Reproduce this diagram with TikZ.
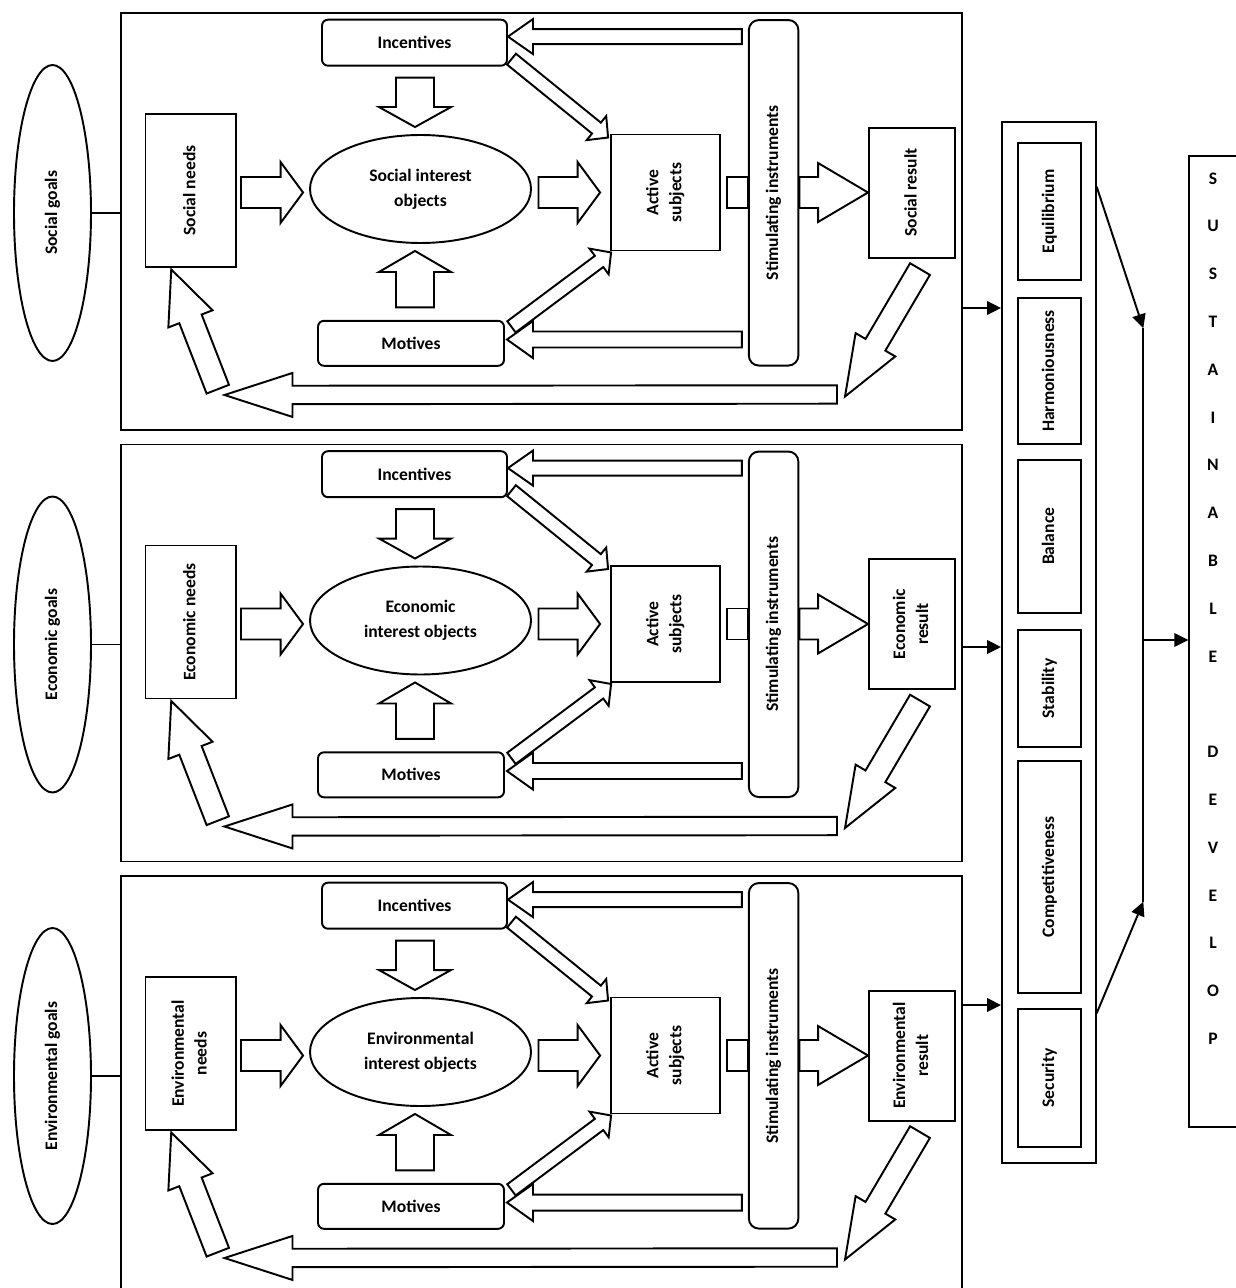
\documentclass[tikz,border=0pt]{standalone}
\usepackage{fontspec}
\setmainfont{Carlito}
\usepackage{graphicx}
\usetikzlibrary{calc,shapes.geometric,arrows.meta}

\newcommand{\vtext}[1]{\rotatebox{90}{\begin{tabular}{@{}c@{}}#1\end{tabular}}}

\newcommand{\fatarrow}[5]{%
\coordinate (fa-b) at ($(#2)!#5*0.2mm!(#1)$);
\draw[fat] ($(#1)!#3*0.2mm!90:(#2)$) -- ($(fa-b)!#3*0.2mm!90:(#2)$) -- ($(fa-b)!#4*0.2mm!90:(#2)$) -- (#2)
  -- ($(fa-b)!#4*0.2mm!-90:(#2)$) -- ($(fa-b)!#3*0.2mm!-90:(#2)$) -- ($(#1)!#3*0.2mm!-90:(#2)$) -- cycle;}

\newcommand{\sector}[6]{%
\node[frame] (#1-frame) at (541.7,#2+208.5) {};
\node[oval, minimum width=15.4mm, minimum height=59.2mm] (#1-goal) at (52.5,#2+200) {\vtext{#3}};
\draw[link] (#1-goal.east) -- (#1-goal.east -| #1-frame.west);
\node[plain, minimum width=18.1mm, minimum height=30.6mm] (#1-needs) at (190.75,#2+177.5) {\vtext{#4}};
\node[soft, minimum width=37mm, minimum height=9.2mm] (#1-inc) at (414.5,#2+29.7) {Incentives};
\node[soft, minimum width=37.2mm, minimum height=9mm] (#1-mot) at (411,#2+330.3) {Motives};
\node[oval, minimum width=44.2mm, minimum height=21.6mm, align=center,
  font=\bfseries\fontsize{10}{14.2}\selectfont] (#1-int) at (420.5,#2+176) {#5};
\node[plain, minimum width=21.7mm, minimum height=23.2mm] (#1-act) at (665.3,#2+179.5) {\vtext{Active\\subjects}};
\node[plain, rounded corners=2mm, minimum width=9.9mm, minimum height=69.1mm] (#1-stim) at (773.6,#2+179.8) {\vtext{Stimulating instruments}};
\node[plain, minimum width=17.2mm, minimum height=26mm] (#1-res) at (912,#2+179.6) {\vtext{#6}};
\coordinate (#1-a1) at ($(#1-needs.east |- #1-act.center)+(4,0)$);
\coordinate (#1-a2) at ($(#1-int.west |- #1-act.center)+(-6,0)$);
\fatarrow{#1-a1}{#1-a2}{15.5}{30.5}{22.5}
\coordinate (#1-b1) at ($(#1-int.east |- #1-act.center)+(6.5,0)$);
\coordinate (#1-b2) at ($(#1-act.west)+(-10,0)$);
\fatarrow{#1-b1}{#1-b2}{15.5}{30.5}{22.5}
\coordinate (#1-c1) at ($(#1-inc.south)+(0.5,11)$);
\coordinate (#1-c2) at ($(#1-inc.south |- #1-int.north)+(0.5,-7)$);
\fatarrow{#1-c1}{#1-c2}{19}{36}{20}
\coordinate (#1-d1) at ($(#1-inc.south |- #1-mot.north)+(0.5,-12.5)$);
\coordinate (#1-d2) at ($(#1-inc.south |- #1-int.south)+(0.5,7)$);
\fatarrow{#1-d1}{#1-d2}{19}{36}{21}
\coordinate (#1-e1) at ($(#1-stim.north west)+(-6,17.5)$);
\coordinate (#1-e2) at (#1-inc.east |- #1-e1);
\fatarrow{#1-e1}{#1-e2}{7.5}{17.5}{25}
\coordinate (#1-f1) at ($(#1-stim.south west)+(-6,-27)$);
\coordinate (#1-f2) at ($(#1-mot.east |- #1-f1)+(2,0)$);
\fatarrow{#1-f1}{#1-f2}{8}{18.5}{26}
\coordinate (#1-g1) at ($(#1-inc.south east)+(3.5,-7.5)$);
\coordinate (#1-g2) at ($(#1-act.north west)+(-2,4)$);
\fatarrow{#1-g1}{#1-g2}{7}{15.5}{15}
\coordinate (#1-h1) at ($(#1-mot.north east)+(6.5,7)$);
\coordinate (#1-h2) at ($(#1-act.south west)+(1,1)$);
\fatarrow{#1-h1}{#1-h2}{7}{16}{15}
\draw[plain] ($(#1-stim.west |- #1-act.center)+(-21,-15.5)$) rectangle ($(#1-stim.west |- #1-act.center)+(0,15.5)$);
\coordinate (#1-i1) at (#1-stim.east |- #1-act.center);
\coordinate (#1-i2) at (#1-res.west |- #1-act.center);
\fatarrow{#1-i1}{#1-i2}{15.5}{29.5}{50}
\coordinate (#1-r1) at (837,#2+381.5);
\coordinate (#1-r2) at (224.5,#2+382);
\fatarrow{#1-r1}{#1-r2}{9.2}{22}{68}
\coordinate (#1-j1) at ($(#1-res.south)+(8,10.5)$);
\coordinate (#1-j2) at ($(#1-r1)+(8,2)$);
\fatarrow{#1-j1}{#1-j2}{11.5}{23}{60}
\coordinate (#1-k1) at ($(#1-r2)+(-6.7,-5.8)$);
\coordinate (#1-k2) at ($(#1-needs.south)+(-19.5,1.5)$);
\fatarrow{#1-k1}{#1-k2}{12}{23.7}{53}}

\begin{document}
\begin{tikzpicture}[x=0.2mm,y=-0.2mm,
  every node/.style={font=\bfseries\fontsize{10}{13}\selectfont, inner sep=0pt},
  plain/.style={draw, line width=1.1pt, rectangle},
  soft/.style={plain, rounded corners=1.2mm},
  oval/.style={draw, line width=1.1pt, ellipse},
  frame/.style={draw, line width=1.1pt, minimum width=168.26mm, minimum height=83.4mm},
  link/.style={line width=1.1pt},
  flow/.style={line width=1.1pt, -{Triangle[length=2.8mm,width=2.7mm]}},
  fat/.style={draw, line width=1.1pt, fill=white}]
\useasboundingbox (0,0) rectangle (1235,1288);

\sector{s}{13}{Social goals}{Social needs}{Social interest\\objects}{Social result}
\sector{e}{444.5}{Economic goals}{Economic needs}{Economic\\interest objects}{Economic\\result}
\sector{n}{876}{Environmental goals}{Environmental\\needs}{Environmental\\interest objects}{Environmental\\result}

\node[plain, minimum width=18.74mm, minimum height=208.26mm] (cont) at (1048.85,642.35) {};
\node[plain, minimum width=12.6mm, minimum height=27.46mm] (eq) at (1049.5,211.35) {\vtext{Equilibrium}};
\node[plain, minimum width=12.6mm, minimum height=29.2mm] (har) at (1049.5,371) {\vtext{Harmoniousness}};
\node[plain, minimum width=12.6mm, minimum height=30.54mm] (bal) at (1049.5,536.35) {\vtext{Balance}};
\node[plain, minimum width=12.6mm, minimum height=23.4mm] (sta) at (1049.5,688.5) {\vtext{Stability}};
\node[plain, minimum width=12.6mm, minimum height=46.46mm] (com) at (1049.5,876.85) {\vtext{Competitiveness}};
\node[plain, minimum width=12.6mm, minimum height=27.54mm] (sec) at (1049.5,1077.85) {\vtext{Security}};

\node[plain, minimum width=24mm, minimum height=194.2mm] (sust) at (1249.3,641.5) {};
\node[anchor=north, align=center, font=\bfseries\fontsize{10}{27.2}\selectfont] (word) at (1213,172.3)
  {S\\U\\S\\T\\A\\I\\N\\A\\B\\L\\E\\[27.2pt]D\\E\\V\\E\\L\\O\\P};

\draw[flow] (s-frame.east |- 0,308) -- (cont.west |- 0,308);
\draw[flow] (e-frame.east |- 0,647) -- (cont.west |- 0,647);
\draw[flow] (n-frame.east |- 0,1005) -- (cont.west |- 0,1005);

\coordinate (bus-t) at (1143.3,328.3);
\coordinate (bus-b) at (1143.3,901.7);
\draw[flow] (cont.east |- 0,186.7) -- (bus-t);
\draw[link] (bus-t) -- (bus-b);
\draw[flow] (cont.east |- 0,1013.3) -- (bus-b);
\draw[flow] (bus-t |- 0,640) -- (sust.west |- 0,640);
\end{tikzpicture}
\end{document}
